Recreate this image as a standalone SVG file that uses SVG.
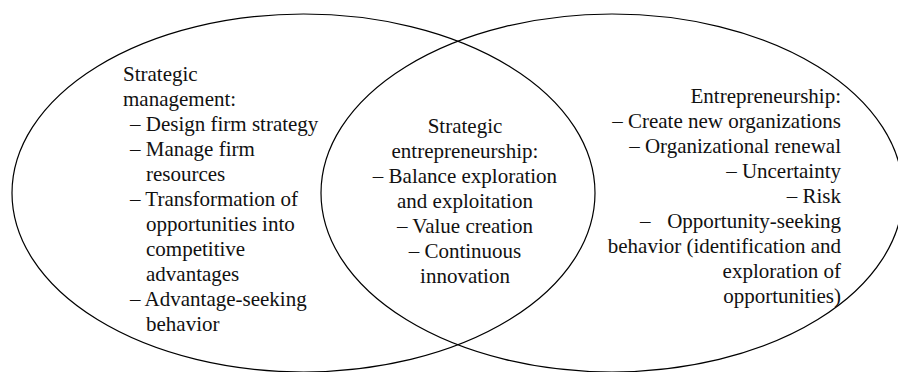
<svg xmlns="http://www.w3.org/2000/svg" width="898" height="372" viewBox="0 0 898 372">
  <style>
    .set { fill: none; stroke: #000; stroke-width: 1.2; }
    text { font-family: "Liberation Serif", "Times New Roman", serif; font-size: 21px; fill: #111; }
    .mid { text-anchor: middle; }
    .end { text-anchor: end; }
  </style>
  <rect width="898" height="372" fill="#fff"/>
  <g id="sets">
    <ellipse id="strategic-management-set" class="set" cx="303.5" cy="193" rx="291.5" ry="179"/>
    <ellipse id="entrepreneurship-set" class="set" cx="612" cy="193" rx="291" ry="179"/>
  </g>
  <g id="strategic-management">
    <text x="123" y="81">Strategic</text>
    <text x="123" y="106">management:</text>
    <text x="130" y="131">– Design firm strategy</text>
    <text x="130" y="156">– Manage firm</text>
    <text x="146" y="181">resources</text>
    <text x="130" y="206">– Transformation of</text>
    <text x="146" y="231">opportunities into</text>
    <text x="146" y="256">competitive</text>
    <text x="146" y="281">advantages</text>
    <text x="130" y="306">– Advantage-seeking</text>
    <text x="146" y="331">behavior</text>
  </g>
  <g id="strategic-entrepreneurship">
    <text class="mid" x="465" y="133">Strategic</text>
    <text class="mid" x="465" y="158">entrepreneurship:</text>
    <text class="mid" x="465" y="183">– Balance exploration</text>
    <text class="mid" x="465" y="208">and exploitation</text>
    <text class="mid" x="465" y="233">– Value creation</text>
    <text class="mid" x="465" y="258">– Continuous</text>
    <text class="mid" x="465" y="283">innovation</text>
  </g>
  <g id="entrepreneurship">
    <text class="end" x="841" y="103">Entrepreneurship:</text>
    <text class="end" x="841" y="128">– Create new organizations</text>
    <text class="end" x="841" y="153">– Organizational renewal</text>
    <text class="end" x="841" y="178">– Uncertainty</text>
    <text class="end" x="841" y="203">– Risk</text>
    <text x="640" y="228">–</text>
    <text class="end" x="841" y="228">Opportunity-seeking</text>
    <text class="end" x="841" y="253">behavior (identification and</text>
    <text class="end" x="841" y="278">exploration of</text>
    <text class="end" x="841" y="303">opportunities)</text>
  </g>
</svg>
